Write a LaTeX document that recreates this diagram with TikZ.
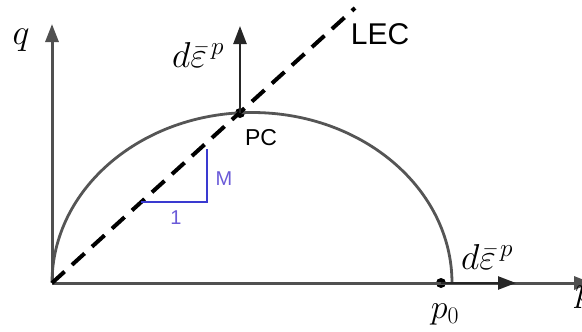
\RequirePackage{fix-cm}
\documentclass[tikz,border=0pt]{standalone}
\usepackage{fontspec}
\setsansfont{Liberation Sans}
\usetikzlibrary{arrows.meta}
\definecolor{axisgray}{HTML}{505050}
\definecolor{curvegray}{HTML}{555555}
\definecolor{triblue}{HTML}{3A3AD0}
\definecolor{lblblue}{HTML}{6A5AD8}
\tikzset{
  axis/.style={axisgray, line width=3pt, -{Triangle[length=18pt,width=13pt]}},
  flow/.style={black!85, line width=2.4pt, -{Triangle[length=18pt,width=13pt]}},
  lec/.style={black, line width=4pt, dash pattern=on 17pt off 10pt},
  surf/.style={curvegray, line width=2.8pt},
  tri/.style={triblue, line width=1.6pt},
  sflbl/.style={font=\sffamily\fontsize{30}{32}\selectfont, inner sep=0pt},
  mlbl/.style={font=\fontsize{36}{38}\selectfont, inner sep=0pt},
  dot/.style={circle, fill=black, inner sep=0pt, minimum size=10pt},
}
\begin{document}
\begin{tikzpicture}[x=1pt,y=-1pt]
\useasboundingbox (0,0) rectangle (582,332);
\coordinate (O) at (52,283);
\coordinate (qend) at (52,24);
\coordinate (pend) at (592,283);
\coordinate (lecend) at (355,8);
\node[dot] (pc) at (240,113) {};
\node[dot] (p0) at (441,283) {};
\coordinate (pcup) at (240,26);
\coordinate (p0right) at (516,283);
% ellipse (yield surface)
\draw[surf] (O) arc[start angle=180, end angle=360, x radius=200, y radius=170.5];
% axes
\draw[axis] (O) -- (qend);
\draw[axis] (O) -- (pend);
% LEC line
\draw[lec] (O) -- (lecend);
% flow vectors
\draw[flow] (pc.center) -- (pcup);
\draw[flow] (p0.center) -- (p0right);
% slope triangle
\coordinate (t1) at (141,202);
\coordinate (t2) at (207,202);
\coordinate (t3) at (207,149);
\draw[tri] (t1) -- (t2) -- (t3);
% labels
\node[mlbl] (ql) at (21,40) {$q$};
\node[mlbl] (pl) at (584,297) {$p$};
\node[mlbl, font=\fontsize{34}{36}\selectfont] (p0l) at (445,314) {$p_0$};
\node[mlbl] (dep1) at (198,55) {$d\bar{\varepsilon}^{\,p}$};
\node[mlbl] (dep2) at (487,257) {$d\bar{\varepsilon}^{\,p}$};
\node[sflbl] (lecl) at (380,34) {LEC};
\node[sflbl, font=\sffamily\fontsize{23}{25}\selectfont] (pcl) at (261,138) {PC};
\node[sflbl, font=\sffamily\fontsize{20}{22}\selectfont, text=lblblue] (ml) at (224,179) {M};
\node[sflbl, font=\sffamily\fontsize{20}{22}\selectfont, text=lblblue] (onel) at (176,218) {1};
\end{tikzpicture}
\end{document}
